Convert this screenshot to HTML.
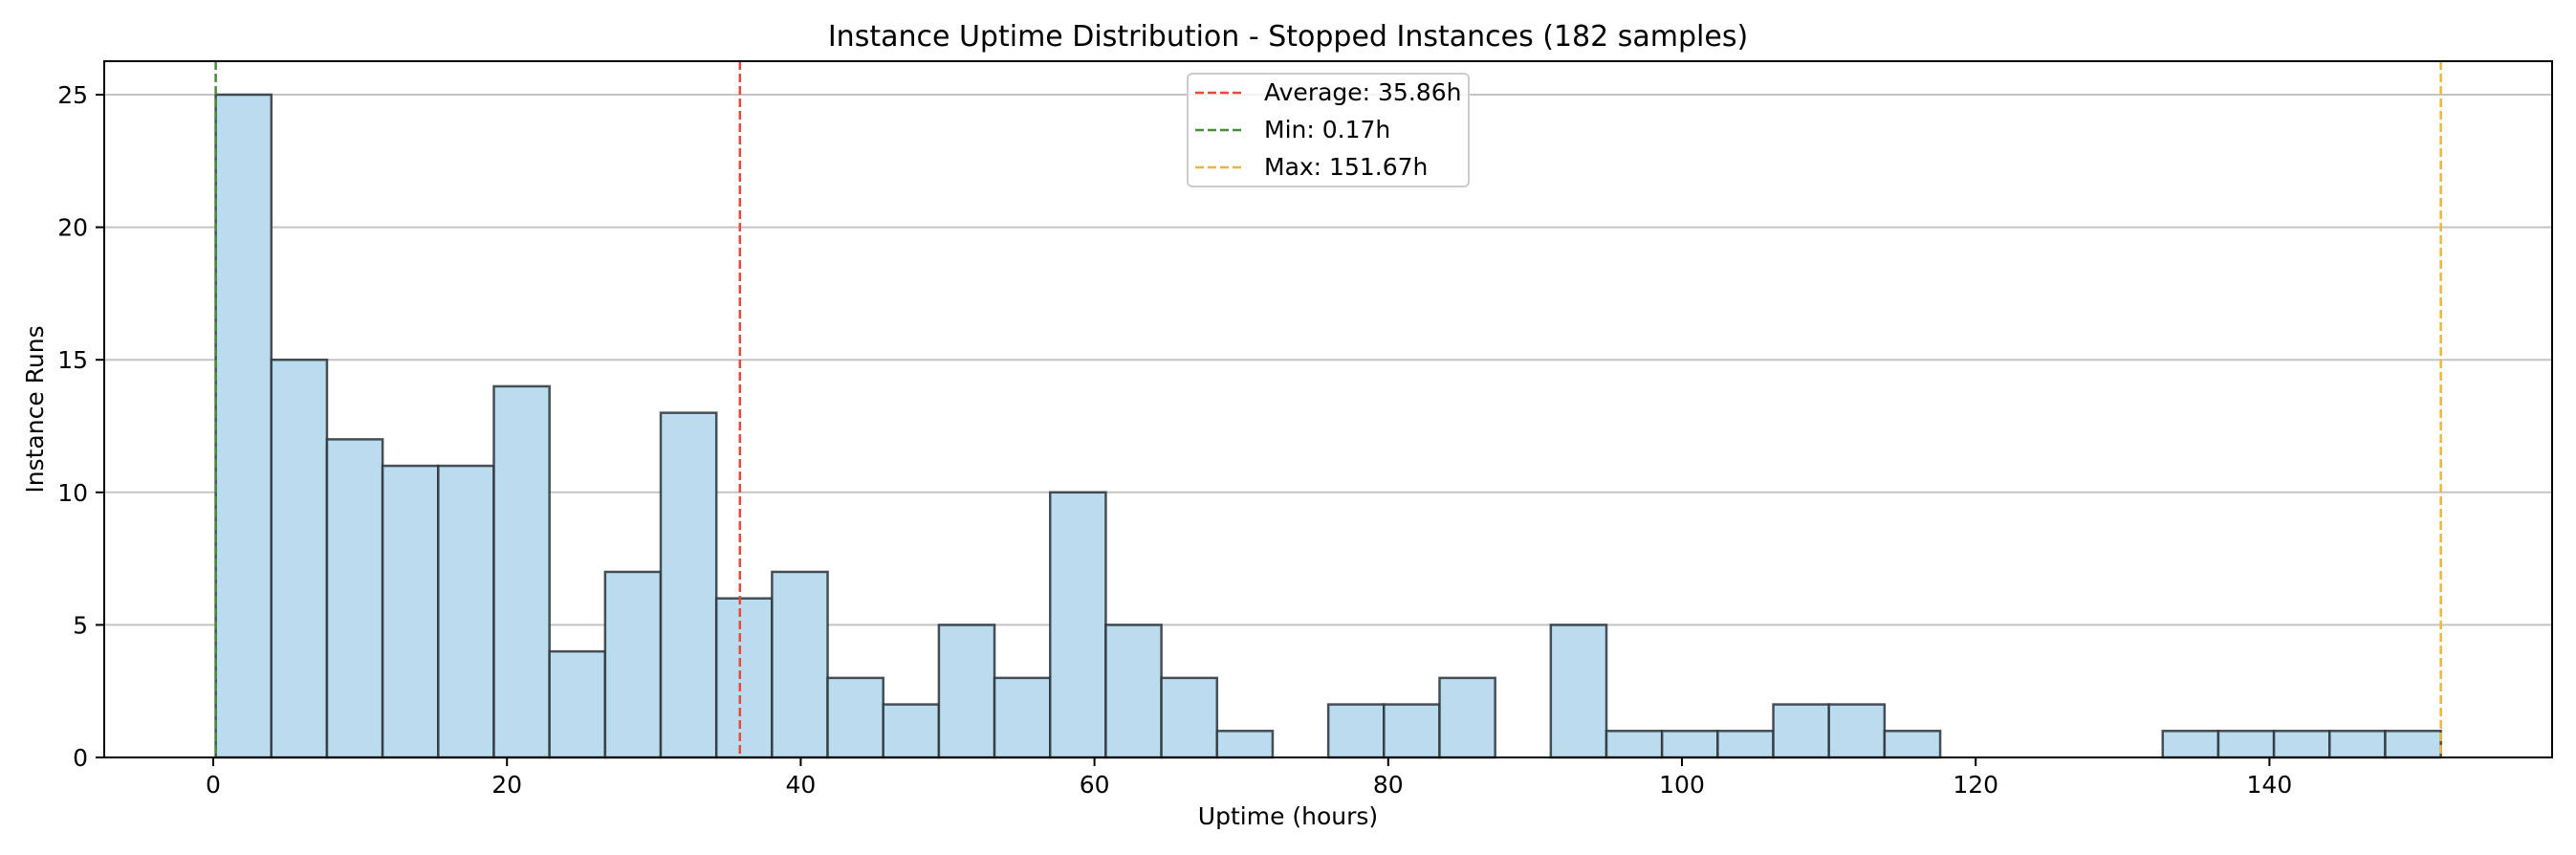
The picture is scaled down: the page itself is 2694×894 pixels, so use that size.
<!DOCTYPE html>
<html><head><meta charset="utf-8"><style>
html,body{margin:0;padding:0;background:#fff;}
svg{display:block;font-family:"DejaVu Sans","Liberation Sans",sans-serif;}
</style></head><body>
<svg id="s" width="2694" height="894" viewBox="0 0 2694 894" xmlns="http://www.w3.org/2000/svg">
<rect width="2694" height="894" fill="#fff"/>
<g id="grid"></g>
<g id="bars"></g>
<g id="vl"></g>
<rect x="109" y="64" width="2560" height="728" fill="none" stroke="#000" stroke-width="2"/>
<g id="ticks" font-size="25" fill="#000"></g>
<text x="1347" y="48" font-size="30" text-anchor="middle">Instance Uptime Distribution - Stopped Instances (182 samples)</text>
<text x="1347" y="862" font-size="25" text-anchor="middle">Uptime (hours)</text>
<text transform="translate(45,428) rotate(-90)" font-size="25" text-anchor="middle">Instance Runs</text>
<rect x="1242" y="77" width="294" height="118" rx="5" fill="#fff" fill-opacity="0.8" stroke="#ccc" stroke-width="2"/>
<line x1="1250" y1="97" x2="1300" y2="97" stroke="#e8493a" stroke-width="2.5" stroke-dasharray="9,4"/>
<line x1="1250" y1="136" x2="1300" y2="136" stroke="#4a8a3a" stroke-width="2.5" stroke-dasharray="9,4"/>
<line x1="1250" y1="175" x2="1300" y2="175" stroke="#f0b43c" stroke-width="2.5" stroke-dasharray="9,4"/>
<text x="1322" y="105" font-size="25">Average: 35.86h</text>
<text x="1322" y="144" font-size="25">Min: 0.17h</text>
<text x="1322" y="183" font-size="25">Max: 151.67h</text>
</svg>
<script>
var NS="http://www.w3.org/2000/svg";
function el(p,t,a,txt){var e=document.createElementNS(NS,t);for(var k in a)e.setAttribute(k,a[k]);if(txt!==undefined)e.textContent=txt;document.getElementById(p).appendChild(e);}
var X0=223,SX=15.36,Y0=792,SY=27.72;
for(var v=5;v<=25;v+=5){el("grid","line",{x1:109,x2:2669,y1:Y0-v*SY,y2:Y0-v*SY,stroke:"#c4c4c4","stroke-width":2});}
var c=[25,15,12,11,11,14,4,7,13,6,7,3,2,5,3,10,5,3,1,0,2,2,3,0,5,1,1,1,2,2,1,0,0,0,0,1,1,1,1,1];
var lo=0.17,w=(151.67-0.17)/40;
for(var i=0;i<40;i++){if(!c[i])continue;var x1=X0+(lo+i*w)*SX,x2=X0+(lo+(i+1)*w)*SX;
el("bars","rect",{x:x1,y:Y0-c[i]*SY,width:x2-x1,height:c[i]*SY,fill:"#bbdcee",stroke:"#2a3338","stroke-width":2.5,"stroke-opacity":0.85});}
el("vl","line",{x1:X0+35.86*SX,x2:X0+35.86*SX,y1:64,y2:792,stroke:"#e8493a","stroke-width":2.5,"stroke-dasharray":"9,4"});
el("vl","line",{x1:X0+0.17*SX,x2:X0+0.17*SX,y1:64,y2:792,stroke:"#4a8a3a","stroke-width":2.5,"stroke-dasharray":"9,4"});
el("vl","line",{x1:X0+151.67*SX,x2:X0+151.67*SX,y1:64,y2:792,stroke:"#f0b43c","stroke-width":2.5,"stroke-dasharray":"9,4"});
for(var v=0;v<=25;v+=5){var y=Y0-v*SY;el("ticks","line",{x1:100,x2:109,y1:y,y2:y,stroke:"#000","stroke-width":2});el("ticks","text",{x:92,y:y+9,"text-anchor":"end"},v);}
for(var v=0;v<=140;v+=20){var x=X0+v*SX;el("ticks","line",{x1:x,x2:x,y1:792,y2:801,stroke:"#000","stroke-width":2});el("ticks","text",{x:x,y:829,"text-anchor":"middle"},v);}
</script>
</body></html>
